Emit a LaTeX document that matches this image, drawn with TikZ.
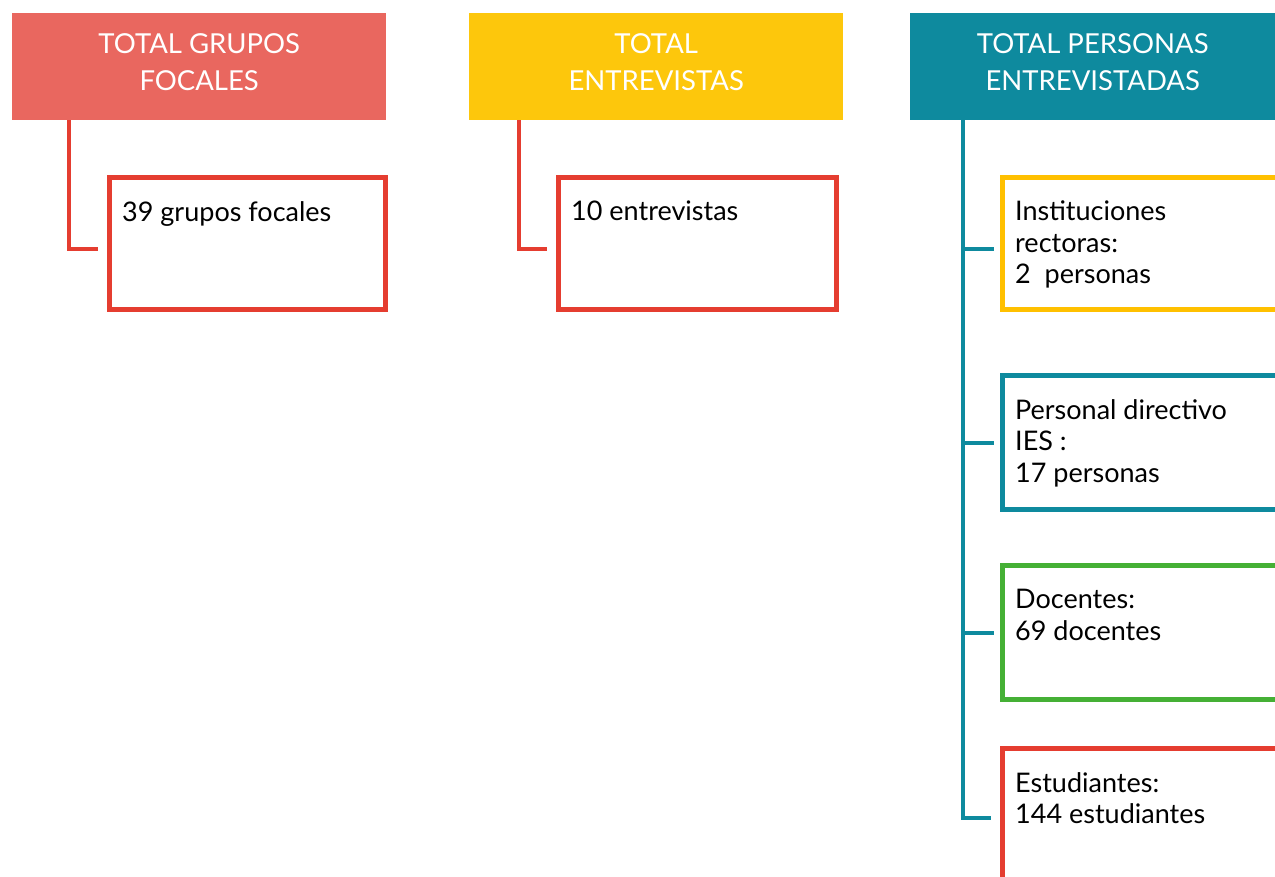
\documentclass[tikz,border=0pt]{standalone}
\usepackage{fontspec}
\setmainfont{Lato}
\usepackage{xcolor}
\usetikzlibrary{positioning}
\definecolor{headred}{HTML}{E9675F}
\definecolor{headyellow}{HTML}{FDC70C}
\definecolor{headteal}{HTML}{0E8A9E}
\definecolor{linered}{HTML}{E53D30}
\definecolor{lineyellow}{HTML}{FFC000}
\definecolor{linegreen}{HTML}{45B035}

\tikzset{
  header/.style={fill=#1, text=white, anchor=north west, inner sep=0pt,
    text height=77pt, text depth=30pt, align=center,
    font=\fontsize{27.5}{37}\selectfont},
  card/.style={draw=#1, line width=5pt, anchor=north west, inner sep=0pt,
    outer sep=0pt, minimum height=132pt},
  cardtext/.style={anchor=north west, inner sep=0pt, align=left,
    font=\fontsize{27}{31.5}\selectfont},
  link/.style={draw=#1, line width=4pt},
}

\begin{document}
\begin{tikzpicture}[x=1pt, y=-1pt]
  \useasboundingbox (0,0) rectangle (1275,877);
  \clip (0,0) rectangle (1275,877);

  % headers
  \node[header=headred, minimum width=374pt] (grupos) at (12,13)
    {TOTAL GRUPOS\\FOCALES};
  \node[header=headyellow, minimum width=374pt] (entrev) at (469,13)
    {TOTAL\\ENTREVISTAS};
  \node[header=headteal, minimum width=365pt] (personas) at (910,13)
    {TOTAL PERSONAS\\ENTREVISTADAS};

  % left and middle columns
  \node[card=linered, minimum width=276pt] (gruposbox) at (109.5,177.5) {};
  \node[cardtext, below right=23.5pt and 12.5pt of gruposbox.north west] (grupostxt)
    {39 grupos focales};
  \node[card=linered, minimum width=278pt] (entrevbox) at (558.5,177.5) {};
  \node[cardtext, below right=23.5pt and 12.5pt of entrevbox.north west] (entrevtxt)
    {10 entrevistas};

  % right column
  \node[card=lineyellow, minimum width=300pt] (rectoras) at (1002.5,177.5) {};
  \node[card=headteal, minimum width=300pt, minimum height=134pt] (directivo) at (1002.5,375.5) {};
  \node[card=linegreen, minimum width=300pt, minimum height=134pt] (docentes) at (1002.5,565.5) {};
  \node[card=linered, minimum width=300pt, minimum height=134pt] (estudiantes) at (1002.5,748.5) {};

  \node[cardtext, below right=23.5pt and 12.5pt of rectoras.north west] (rectorastxt)
    {Instituciones\\rectoras:\\2\ \ personas};
  \node[cardtext, below right=23.5pt and 12.5pt of directivo.north west] (directivotxt)
    {Personal directivo\\IES :\\17 personas};
  \node[cardtext, below right=23.5pt and 12.5pt of docentes.north west] (docentestxt)
    {Docentes:\\69 docentes};
  \node[cardtext, below right=23.5pt and 12.5pt of estudiantes.north west] (estudiantestxt)
    {Estudiantes:\\144 estudiantes};

  % connectors
  \draw[link=linered] ([xshift=56.5pt]grupos.south west)
    |- ([xshift=-12pt, yshift=-5.5pt]gruposbox.west);
  \draw[link=linered] ([xshift=50pt]entrev.south west)
    |- ([xshift=-11.5pt, yshift=-5.5pt]entrevbox.west);

  \coordinate (trunk) at ([xshift=53pt]personas.south west);
  \draw[link=headteal] (trunk) |- ([xshift=-11.5pt, yshift=-2pt]estudiantes.west);
  \draw[link=headteal] ([yshift=-5.5pt]rectoras.west -| trunk)
    -- ([xshift=-8.5pt, yshift=-5.5pt]rectoras.west);
  \draw[link=headteal] (directivo.west -| trunk) -- ([xshift=-8.5pt]directivo.west);
  \draw[link=headteal] (docentes.west -| trunk) -- ([xshift=-8.5pt]docentes.west);
\end{tikzpicture}
\end{document}
